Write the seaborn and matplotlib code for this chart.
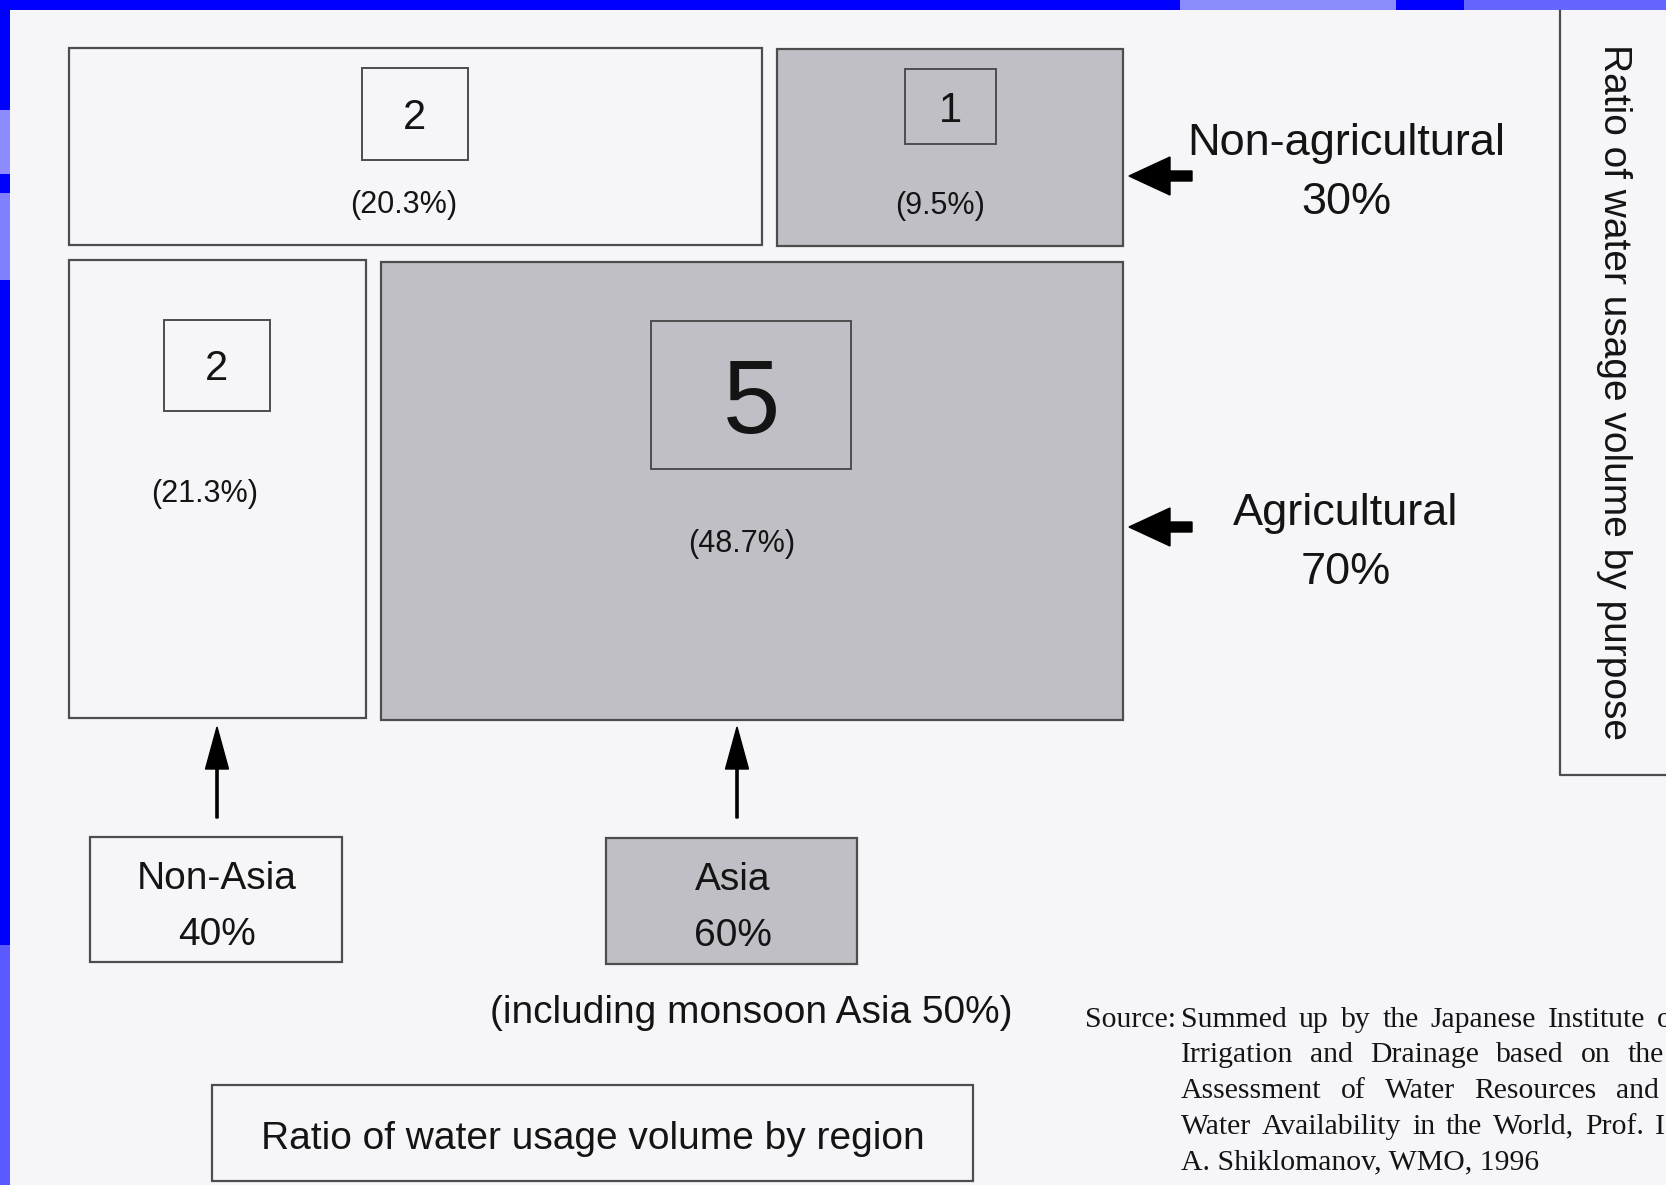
import pandas as pd
import matplotlib.pyplot as plt
import matplotlib.patches as mpatches
import seaborn as sns

# Data
regions = ["Non-Asia", "Asia"]
region_share = [40, 60]
purposes = ["Non-agricultural", "Agricultural"]
purpose_share = [30, 70]
cell_rank = [[2, 1], [2, 5]]            # rows: purpose, cols: region
cell_share = [[20.3, 9.5], [21.3, 48.7]]
monsoon_share = 50
region_title = "Ratio of water usage volume by region"
purpose_title = "Ratio of water usage volume by purpose"
source_head = "Source:"
source_lines = [
    "Summed up by the Japanese Institute of",
    "Irrigation and Drainage based on the",
    "Assessment of Water Resources and",
    "Water Availability in the World, Prof. I.",
    "A. Shiklomanov, WMO, 1996",
]

# Layout of the schematic (pixel space of a 1666 x 1185 canvas)
cell_box = {(0, 0): (69, 48, 762, 245), (0, 1): (777, 49, 1123, 246),
            (1, 0): (69, 260, 366, 718), (1, 1): (381, 262, 1123, 720)}
rank_box = {(0, 0): (362, 68, 468, 160), (0, 1): (905, 69, 996, 144),
            (1, 0): (164, 320, 270, 411), (1, 1): (651, 321, 851, 469)}
share_pos = {(0, 0): (404, 205), (0, 1): (940, 206),
             (1, 0): (205, 494), (1, 1): (742, 544)}
region_box = [(90, 837, 342, 962), (606, 838, 857, 964)]
region_arrow_x = [217, 737]
purpose_y = [(144, 203, 176), (514, 572, 527)]
source_right = [1682, 1664, 1659, 1672]   # justified right edge per line

WHITE = "#f6f6f9"
GRAY = "#bfbfc5"
EDGE = "#4d4d4d"
INK = "#141414"

sns.set_theme(style="white")
plt.rcParams['font.family'] = ['Liberation Sans', 'DejaVu Sans']

fig = plt.figure(figsize=(16.66, 11.85), dpi=100)
fig.patch.set_facecolor(WHITE)
ax = fig.add_axes([0, 0, 1, 1])
ax.set_xlim(0, 1666)
ax.set_ylim(1185, 0)
ax.axis("off")
ax.set_facecolor(WHITE)


def box(x0, y0, x1, y1, fc, lw=1.6, z=2):
    ax.add_patch(mpatches.Rectangle((x0, y0), x1 - x0, y1 - y0, facecolor=fc,
                                    edgecolor=EDGE, linewidth=lw, zorder=z))


# blue slide frame
ax.add_patch(mpatches.Rectangle((0, 0), 1666, 10, color="#0000ff", lw=0, zorder=5))
ax.add_patch(mpatches.Rectangle((0, 0), 10, 1185, color="#0000ff", lw=0, zorder=5))
for (x, y, w, h, c) in [(1180, 0, 216, 10, "#8c8cff"), (1464, 0, 202, 10, "#6464ff"),
                        (0, 110, 10, 64, "#8c8cff"), (0, 193, 10, 87, "#8080ff"),
                        (0, 945, 10, 240, "#5a5aff")]:
    ax.add_patch(mpatches.Rectangle((x, y), w, h, color=c, lw=0, zorder=6))

# cells: purpose x region
cells = pd.DataFrame([(i, j, cell_rank[i][j], cell_share[i][j])
                      for i in range(len(purposes)) for j in range(len(regions))],
                     columns=["p", "r", "rank", "share"])
top_rank = max(max(r) for r in cell_rank)
for _, row in cells.iterrows():
    key = (int(row.p), int(row.r))
    fc = GRAY if regions[key[1]] == "Asia" else WHITE
    box(*cell_box[key], fc)
    bx0, by0, bx1, by1 = rank_box[key]
    box(bx0, by0, bx1, by1, fc, lw=1.4, z=3)
    big = row["rank"] == top_rank
    ax.text((bx0 + bx1) / 2, (by0 + by1) / 2 + (12 if big else 4), str(int(row["rank"])),
            fontsize=74 if big else 30, ha="center", va="center", color=INK, zorder=4)
    sx, sy = share_pos[key]
    ax.text(sx, sy, f"({row.share:.1f}%)", fontsize=22, ha="center", va="center",
            color=INK, zorder=4)

# region boxes and arrows
for j, name in enumerate(regions):
    x0, y0, x1, y1 = region_box[j]
    box(x0, y0, x1, y1, GRAY if name == "Asia" else WHITE)
    cx = (x0 + x1) / 2 + 1
    ax.text(cx, y0 + 42, name, fontsize=28, ha="center", va="center", color=INK)
    ax.text(cx, y0 + 98, f"{region_share[j]}%", fontsize=28, ha="center",
            va="center", color=INK)
    ax.arrow(region_arrow_x[j], 818, 0, -91, width=2.2, head_width=23,
             head_length=42, length_includes_head=True, color="black", zorder=4)

ax.text(751, 1013, f"(including monsoon Asia {monsoon_share}%)", fontsize=28,
        ha="center", va="center", color=INK)

# purpose labels and arrows
for i, name in enumerate(purposes):
    y1, y2, ya = purpose_y[i]
    ax.text(1346, y1, name, fontsize=32.5, ha="center", va="center", color=INK)
    ax.text(1346, y2, f"{purpose_share[i]}%", fontsize=32.5, ha="center",
            va="center", color=INK)
    ax.arrow(1192, ya, -63, 0, width=10, head_width=38, head_length=41,
             length_includes_head=True, color="black", zorder=4)

# titles
box(212, 1085, 973, 1181, WHITE)
ax.text(593, 1139, region_title, fontsize=28, ha="center", va="center", color=INK)
ax.plot([1560, 1560, 1670], [10, 775, 775], color=EDGE, lw=1.6, zorder=2)
ax.text(1614, 392, purpose_title, fontsize=28, rotation=270, ha="center",
        va="center", color=INK)

# source note, justified like the printed original (runs off the page edge)
serif = ['Liberation Serif', 'DejaVu Serif']
src_kw = dict(fontsize=21.4, family=serif, ha="left", va="center", color=INK)
ax.text(1085, 1020, source_head, **src_kw)
renderer = fig.canvas.get_renderer()
left = 1181
for k, line in enumerate(source_lines):
    y = 1020 + k * 35.5
    words = line.split()
    if k == len(source_lines) - 1:
        ax.text(left, y, line, **src_kw)
        continue
    texts = [ax.text(0, y, w, **src_kw) for w in words]
    widths = [t.get_window_extent(renderer=renderer).width for t in texts]
    gap = (source_right[k] - left - sum(widths)) / (len(words) - 1)
    x = left
    for t, w in zip(texts, widths):
        t.set_x(x)
        x += w + gap

plt.savefig("out.png", dpi=100, facecolor=fig.get_facecolor())
